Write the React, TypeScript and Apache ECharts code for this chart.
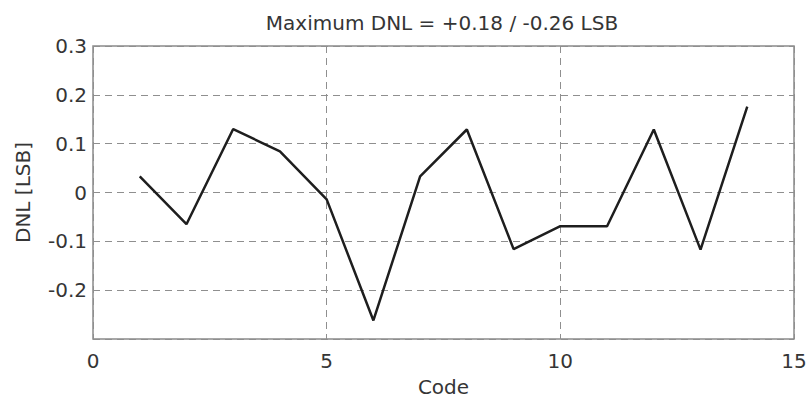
import React, { useEffect, useRef } from "react";
import * as echarts from "echarts";

const codes = [1, 2, 3, 4, 5, 6, 7, 8, 9, 10, 11, 12, 13, 14];
const dnl = [0.033, -0.065, 0.13, 0.084, -0.014, -0.262, 0.033, 0.129, -0.116, -0.069, -0.069, 0.129, -0.117, 0.176];
const titleText = "Maximum DNL = +0.18 / -0.26 LSB";
const xName = "Code";
const yName = "DNL [LSB]";

export default function App() {
  const ref = useRef<HTMLDivElement>(null);
  useEffect(() => {
    if (!ref.current) return;
    const chart = echarts.init(ref.current, null, { renderer: "svg" });
    const font = "'DejaVu Sans', sans-serif";
    const txt = "#353535";
    chart.setOption({
      animation: false,
      backgroundColor: "#ffffff",
      title: {
        text: titleText,
        left: 437,
        textAlign: "center",
        top: 8,
        textStyle: { fontFamily: font, fontSize: 20, fontWeight: "normal", color: txt },
      },
      grid: {
        left: 93,
        top: 46,
        right: 13,
        bottom: 59,
        show: true,
        borderColor: "#8a8a8a",
        borderWidth: 1.5,
        containLabel: false,
        outerBoundsMode: "none",
      },
      xAxis: {
        type: "value",
        min: 0,
        max: 15,
        interval: 5,
        name: xName,
        nameLocation: "middle",
        nameGap: 38,
        nameTextStyle: { fontFamily: font, fontSize: 20, color: txt },
        axisLine: { show: false },
        axisTick: { show: false },
        axisLabel: { fontFamily: font, fontSize: 20, color: txt, margin: 12 },
        splitLine: { show: true, lineStyle: { color: "#8f8f8f", type: [7, 5], width: 1 } },
      },
      yAxis: {
        type: "value",
        min: -0.3,
        max: 0.3,
        interval: 0.1,
        name: yName,
        nameLocation: "middle",
        nameGap: 60,
        nameTextStyle: { fontFamily: font, fontSize: 20, color: txt },
        axisLine: { show: false },
        axisTick: { show: false },
        axisLabel: {
          fontFamily: font,
          fontSize: 20,
          color: txt,
          margin: 6,
          formatter: (v: number) => {
            const r = Math.round(v * 10) / 10;
            if (Math.abs(r + 0.3) < 1e-9) return "";
            return r === 0 ? "0" : String(r);
          },
        },
        splitLine: {
          show: true,
          lineStyle: { color: "#8f8f8f", type: [7, 5], width: 1 },
        },
      },
      series: [
        {
          type: "line",
          data: codes.map((c, i) => [c, dnl[i]]),
          showSymbol: false,
          lineStyle: { color: "#1e1e1e", width: 2.5 },
        },
      ],
    });
    return () => chart.dispose();
  }, []);
  return <div ref={ref} style={{ width: 807, height: 398, position: "absolute", left: 0, top: 0 }} />;
}
